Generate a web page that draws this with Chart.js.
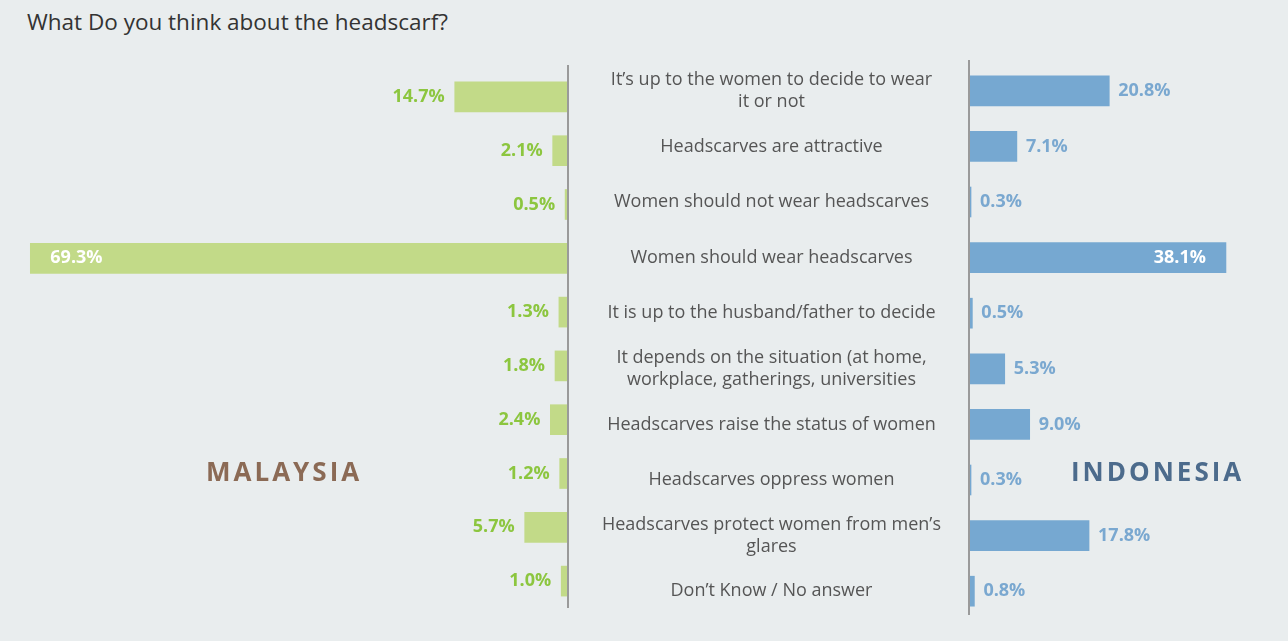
<!DOCTYPE html>
<html>
<head>
<meta charset="utf-8">
<script src="https://cdn.jsdelivr.net/npm/chart.js@4"></script>
<style>
  body { margin: 0; background: #e9edee; font-family: "Open Sans", sans-serif; }
  #page { position: relative; width: 1288px; height: 641px; overflow: hidden; background: #e9edee; }
  #title { position: absolute; left: 27px; top: 6px; font-size: 22.5px; color: #333; }
  .wrap { position: absolute; top: 0; height: 641px; }
  .country { position: absolute; top: 453px; font-size: 26px; font-weight: 700; letter-spacing: 3px; }
  .divider { position: absolute; width: 2px; background: #9a9a9a; }
</style>
</head>
<body>
<div id="page">
  <div id="title">What Do you think about the headscarf?</div>
  <div class="wrap" style="left:0;width:569px"><canvas id="leftChart" width="569" height="641"></canvas></div>
  <div class="wrap" style="left:568px;width:720px"><canvas id="rightChart" width="720" height="641"></canvas></div>
  <div class="divider" style="left:567px;top:65px;height:543px"></div>
  <div class="divider" style="left:968px;top:60px;height:555px"></div>
  <div class="country" style="left:206px;color:#8b6a55">MALAYSIA</div>
  <div class="country" style="left:1071px;color:#4c6b8c">INDONESIA</div>
</div>
<script>
const answers = [
  ["It\u2019s up to the women to decide to wear", "it or not"],
  "Headscarves are attractive",
  "Women should not wear headscarves",
  "Women should wear headscarves",
  "It is up to the husband/father to decide",
  ["It depends on the situation (at home,", "workplace, gatherings, universities"],
  "Headscarves raise the status of women",
  "Headscarves oppress women",
  ["Headscarves protect women from men\u2019s", "glares"],
  "Don\u2019t Know / No answer",
];
const malaysia = [14.7, 2.1, 0.5, 69.3, 1.3, 1.8, 2.4, 1.2, 5.7, 1.0];
const indonesia = [20.8, 7.1, 0.3, 38.1, 0.5, 5.3, 9.0, 0.3, 17.8, 0.8];

Chart.defaults.font.family = "'Open Sans', sans-serif";
Chart.defaults.devicePixelRatio = 1;

// value labels: outside the bar, or inside when the bar is long
function valueLabels(color, side, insideFrom) {
  return {
    id: "valueLabels",
    afterDatasetsDraw(chart) {
      const ctx = chart.ctx;
      const meta = chart.getDatasetMeta(0);
      const data = chart.data.datasets[0].data;
      ctx.save();
      ctx.font = "bold 18px 'Open Sans', sans-serif";
      ctx.textBaseline = "middle";
      meta.data.forEach((bar, i) => {
        const text = data[i].toFixed(1) + "%";
        const inside = data[i] >= insideFrom;
        ctx.fillStyle = inside ? "#ffffff" : color;
        if (side === "left") {
          if (inside) { ctx.textAlign = "left"; ctx.fillText(text, bar.x + 20, bar.y); }
          else { ctx.textAlign = "right"; ctx.fillText(text, bar.x - 10, bar.y); }
        } else {
          if (inside) { ctx.textAlign = "right"; ctx.fillText(text, bar.x - 20, bar.y); }
          else { ctx.textAlign = "left"; ctx.fillText(text, bar.x + 9, bar.y); }
        }
      });
      ctx.restore();
    },
  };
}

new Chart(document.getElementById("leftChart"), {
  type: "bar",
  data: {
    labels: answers,
    datasets: [{ label: "Malaysia", data: malaysia, backgroundColor: "#c2da88", barThickness: 30 }],
  },
  options: {
    indexAxis: "y",
    responsive: false,
    animation: false,
    layout: { padding: { top: 70, bottom: 33, left: 0, right: 0 } },
    plugins: { legend: { display: false }, tooltip: { enabled: false } },
    scales: {
      x: { display: false, reverse: true, min: 0, max: 73.2 },
      y: { display: false },
    },
  },
  plugins: [valueLabels("#8cc63f", "left", 50)],
});

new Chart(document.getElementById("rightChart"), {
  type: "bar",
  data: {
    labels: answers,
    datasets: [{ label: "Indonesia", data: indonesia, backgroundColor: "#76a8d1", barThickness: 30 }],
  },
  options: {
    indexAxis: "y",
    responsive: false,
    animation: false,
    layout: { padding: { top: 63, bottom: 22, left: 0, right: 0 } },
    plugins: { legend: { display: false }, tooltip: { enabled: false } },
    scales: {
      x: { display: false, min: 0, max: 47.3 },
      y: {
        afterFit: (scale) => { scale.width = 401; },
        grid: { display: false, drawTicks: true, tickLength: 28 },
        border: { display: false },
        ticks: {
          crossAlign: "center",
          padding: 0,
          color: "#555",
          font: { size: 18 },
        },
      },
    },
  },
  plugins: [valueLabels("#7aa8d0", "right", 30)],
});
</script>
</body>
</html>
